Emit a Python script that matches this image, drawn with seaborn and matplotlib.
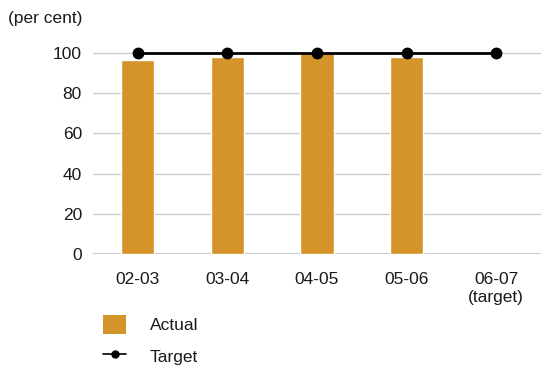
import pandas as pd
import matplotlib.pyplot as plt
import seaborn as sns
from matplotlib.patches import Patch
from matplotlib.lines import Line2D

# データ
years = ['02-03', '03-04', '04-05', '05-06', '06-07\n(target)']
actual_years = ['02-03', '03-04', '04-05', '05-06']
actual = [96.5, 98, 99.8, 98]
target = [100, 100, 100, 100, 100]

bar_color = '#D5942A'
text_color = '#1A1A1A'

sns.set_style('white')
plt.rcParams['font.family'] = ['Liberation Sans', 'DejaVu Sans']

fig = plt.figure(figsize=(5.41, 3.65), dpi=100)
ax = fig.add_axes([0.172, 0.304, 0.828, 0.584])

actual_df = pd.DataFrame({'year': actual_years, 'value': actual})
target_df = pd.DataFrame({'year': years, 'value': target})

sns.barplot(data=actual_df, x='year', y='value', order=years, color=bar_color,
            width=0.37, saturation=1, ax=ax, zorder=2)
sns.pointplot(data=target_df, x='year', y='value', order=years, color='black',
              markers='o', markersize=7, linewidth=2, ax=ax, zorder=3)
for c in ax.collections:
    c.set_clip_on(False)
for l in ax.lines:
    l.set_clip_on(False)

ax.set_xlim(-0.5, 4.5)
ax.set_ylim(0, 106)
ax.set_yticks([0, 20, 40, 60, 80, 100])
ax.yaxis.grid(True, color='#CCCCCC', linewidth=1, zorder=0)
ax.set_axisbelow(True)
for s in ax.spines.values():
    s.set_visible(False)
ax.axhline(0, color='#CCCCCC', linewidth=1.5, zorder=1)
ax.tick_params(axis='both', length=0, labelsize=12.5, colors=text_color)
ax.tick_params(axis='y', pad=8)
ax.tick_params(axis='x', pad=13)
for t in ax.get_xticklabels():
    t.set_linespacing(1.25)
ax.set_xlabel('')
ax.set_ylabel('')

fig.text(0.015, 0.95, '(per cent)', fontsize=12.5, color=text_color, va='center')

# 凡例
handles = [Patch(facecolor=bar_color, edgecolor='none'),
           Line2D([0], [0], color='black', marker='o', markersize=5, linewidth=1.2)]
leg = fig.legend(handles, ['Actual', 'Target'], loc='upper left',
                 bbox_to_anchor=(0.178, 0.157), frameon=False, fontsize=12.5,
                 handlelength=1.3, handleheight=1.3, handletextpad=1.4,
                 labelspacing=0.75, borderaxespad=0)
for t in leg.get_texts():
    t.set_color(text_color)

fig.savefig('out.png', dpi=100)
